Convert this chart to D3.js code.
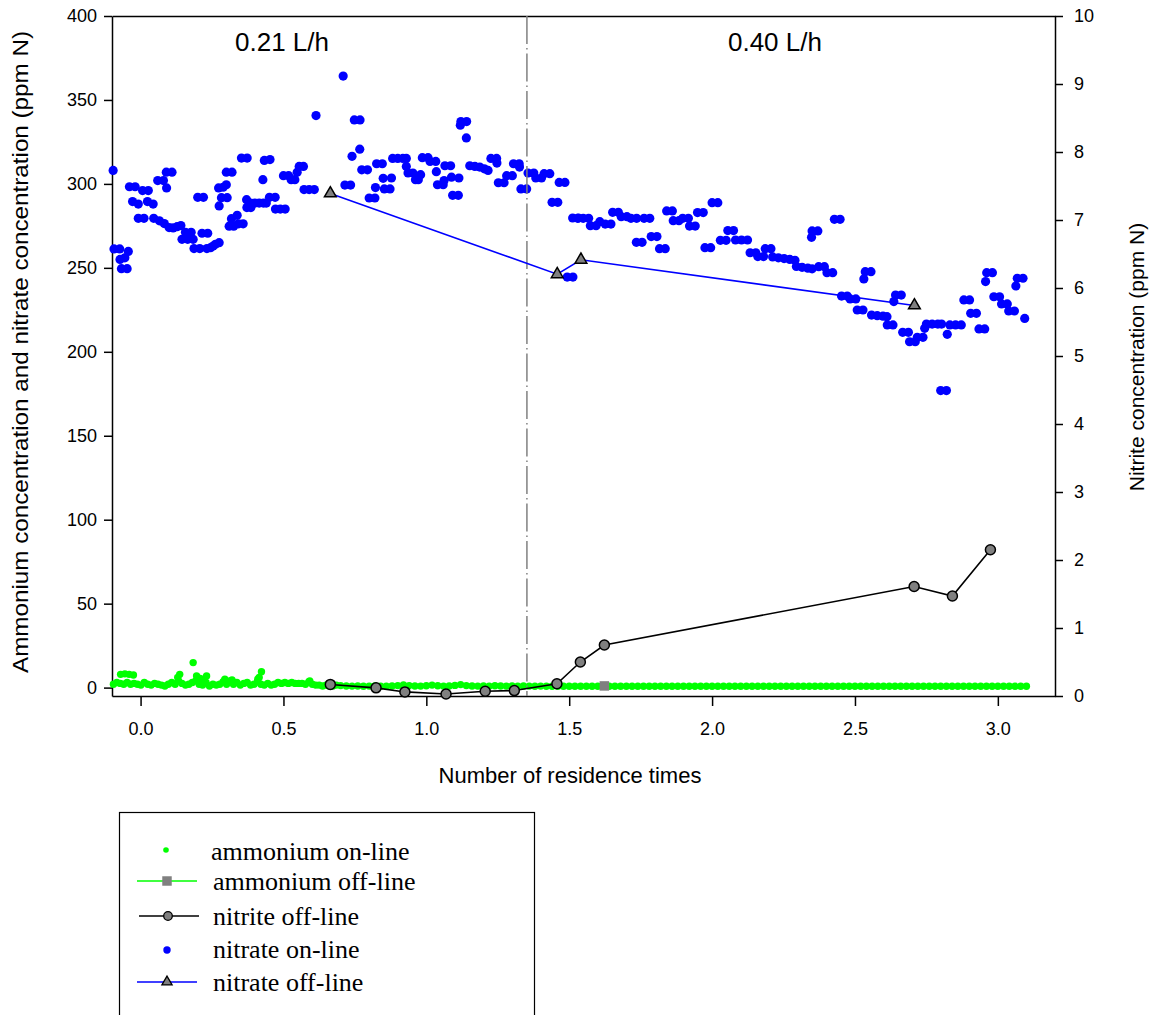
<!DOCTYPE html>
<html>
<head>
<meta charset="utf-8">
<script src="https://cdn.jsdelivr.net/npm/d3@7"></script>
<style>
  body { margin: 0; background: #fff; }
  text { font-family: "Liberation Sans", Arial, sans-serif; }
  .legend text { font-family: "Liberation Serif", "Times New Roman", serif; }
</style>
</head>
<body>
<svg id="chart" width="1154" height="1015"></svg>
<script>
// x ticks and the two flow-rate periods
var xTicks = [0, 0.5, 1, 1.5, 2, 2.5, 3];
var leftTicks = [0, 50, 100, 150, 200, 250, 300, 350, 400];
var rightTicks = [0, 1, 2, 3, 4, 5, 6, 7, 8, 9, 10];
var flowSwitch = 1.352;
var periodLabels = [{x: 0.495, text: "0.21 L/h"}, {x: 2.22, text: "0.40 L/h"}];

// ammonium on-line (left axis, ppm N)
var ammoniumOn = [
  [-0.095,2],[-0.083,3],[-0.071,2.5],[-0.059,2],[-0.047,3],[-0.035,2],[-0.023,2.5],[-0.011,2],
  [0.001,1.5],[0.013,3],[0.025,2],[0.037,1.5],[0.049,2.5],[0.061,2],[0.073,1.5],[0.085,1],
  [0.097,2],[0.109,3],[0.121,2],[0.133,4],[0.145,2.5],[0.157,1.5],[0.169,2],[0.181,3],
  [0.193,4],[0.205,2],[0.217,1.5],[0.229,3],[0.241,1],[0.253,2],[0.265,1.5],[0.277,2],
  [0.289,3.5],[0.301,2],[0.313,4],[0.325,2],[0.337,3],[0.349,1.5],[0.361,2.5],[0.373,3],
  [0.385,1.5],[0.397,2],[0.409,3.5],[0.421,2],[0.433,1.5],[0.445,2.5],[0.457,1.5],[0.469,2],
  [0.481,3],[0.493,2.5],[0.505,3],[0.517,2.5],[0.529,3],[0.541,2.5],[0.553,2.5],[0.565,2.5],
  [0.577,2],[0.589,3.5],[0.601,2],[0.613,1.5],[0.625,1.5],[0.637,1],[0.649,1.5],[0.661,1],
  [0.673,1],[0.685,1.5],
  [-0.07,7.9],[-0.055,8.2],[-0.04,7.9],[-0.025,7.5],[0.13,6],[0.137,7.9],[0.184,14.9],
  [0.196,6.9],[0.208,5.5],[0.22,5],[0.231,6.9],[0.295,5],[0.32,4.5],[0.41,5],[0.415,6],
  [0.423,9.5],[0.592,4],
  [0.70,1.2],[0.72,1.0],[0.74,0.9],[0.76,1.0],[0.78,0.8],[0.80,0.9],[0.82,1.0],[0.84,0.8],
  [0.86,0.9],[0.88,1.0],[0.90,1.2],[0.92,1.6],[0.94,1.2],[0.96,1.0],[0.98,0.9],[1.00,1.1],
  [1.02,1.5],[1.04,1.1],[1.06,0.9],[1.08,1.0],[1.10,1.3],[1.12,1.8],[1.14,1.2],[1.16,1.0],
  [1.18,0.9],[1.20,1.0],[1.22,0.9],[1.24,1.1],[1.26,1.0],[1.28,0.9],[1.30,1.0],[1.32,0.9],
  [1.34,1.0],[1.36,0.9],[1.38,0.8],[1.40,0.9],[1.42,0.8],[1.44,0.8],[1.46,0.8],[1.48,0.8],
  [1.50,0.8],[1.52,0.8],[1.54,0.8],[1.56,0.8],[1.58,0.8],[1.60,0.8],[1.62,0.8],[1.64,0.8],
  [1.66,0.8],[1.68,0.8],[1.70,0.8],[1.72,0.8],[1.74,0.8],[1.76,0.8],[1.78,0.8],[1.80,0.8],
  [1.82,0.8],[1.84,0.8],[1.86,0.8],[1.88,0.8],[1.90,0.8],[1.92,0.8],[1.94,0.8],[1.96,0.8],
  [1.98,0.8],[2.00,0.8],[2.02,0.8],[2.04,0.8],[2.06,0.8],[2.08,0.8],[2.10,0.8],[2.12,0.8],
  [2.14,0.8],[2.16,0.8],[2.18,0.8],[2.20,0.8],[2.22,0.8],[2.24,0.8],[2.26,0.8],[2.28,0.8],
  [2.30,0.8],[2.32,0.8],[2.34,0.8],[2.36,0.8],[2.38,0.8],[2.40,0.8],[2.42,0.8],[2.44,0.8],
  [2.46,0.8],[2.48,0.8],[2.50,0.8],[2.52,0.8],[2.54,0.8],[2.56,0.8],[2.58,0.8],[2.60,0.8],
  [2.62,0.8],[2.64,0.8],[2.66,0.8],[2.68,0.8],[2.70,0.8],[2.72,0.8],[2.74,0.8],[2.76,0.8],
  [2.78,0.8],[2.80,0.8],[2.82,0.8],[2.84,0.8],[2.86,0.8],[2.88,0.8],[2.90,0.8],[2.92,0.8],
  [2.94,0.8],[2.96,0.8],[2.98,0.8],[3.00,0.8],[3.02,0.8],[3.04,0.8],[3.06,0.8],[3.08,0.8],
  [3.10,0.8]
];

// ammonium off-line (left axis)
var ammoniumOffX = [1.623];
var ammoniumOffY = [1.0];

// nitrite off-line (right axis, ppm N)
var nitriteX = [0.664, 0.824, 0.925, 1.069, 1.206, 1.308, 1.457, 1.539, 1.623, 2.707, 2.841, 2.974];
var nitriteY = [0.17, 0.12, 0.06, 0.03, 0.07, 0.08, 0.18, 0.50, 0.75, 1.61, 1.47, 2.15];

// nitrate on-line (left axis)
var nitrateOn = [
  [-0.096,308],[-0.093,261.3],[-0.073,261.3],[-0.043,259.8],[-0.055,256],[-0.072,255],
  [-0.067,249.5],[-0.047,249.5],[-0.039,298.3],[-0.019,298.3],[-0.028,289.5],[-0.008,288],
  [-0.008,279.5],[0.012,279.5],[0.007,296],[0.027,296],[0.024,289.5],[0.044,288],
  [0.046,279.5],[0.066,278],[0.083,276.4],[0.1,274],[0.114,273.8],[0.128,274.5],[0.141,275.2],
  [0.06,302],[0.08,302],[0.091,297.6],[0.09,307],[0.11,307],[0.157,271.2],[0.177,271.2],
  [0.145,267],[0.165,267],[0.184,267],[0.187,261.5],[0.207,261.5],[0.2,292],[0.22,292],
  [0.215,270.6],[0.235,270.6],[0.232,261.5],[0.245,262],[0.254,263],[0.262,264],[0.275,265],
  [0.275,286.9],[0.273,297.6],[0.289,298],[0.3,299.5],[0.283,291.8],[0.303,291.8],
  [0.3,307],[0.32,307],[0.31,274.8],[0.326,274.8],[0.318,279.3],[0.338,281.3],
  [0.343,276.2],[0.359,276.2],[0.353,315.4],[0.373,315.4],[0.371,290.6],[0.372,285.9],
  [0.386,285.9],[0.385,288.6],[0.4,288.6],[0.415,288.6],[0.43,288.6],[0.44,288.6],
  [0.428,302.5],[0.433,314],[0.453,314.5],[0.451,292],[0.471,292],[0.472,285],[0.489,285],
  [0.506,285],[0.5,304.9],[0.518,304.9],[0.527,302.5],[0.54,302.5],[0.548,306.9],
  [0.555,310.4],[0.57,310.4],[0.572,296.6],[0.59,296.6],[0.608,296.6],[0.614,340.7],
  [0.709,364.2],
  [0.748,338.1],[0.768,338.1],[0.767,320.7],[0.74,316.4],[0.715,299.3],[0.735,299.3],
  [0.774,308.4],[0.794,308.4],[0.8,291.6],[0.82,291.6],[0.826,312],[0.846,312],
  [0.822,297.8],[0.849,303.3],[0.878,303.5],[0.853,297],[0.873,297],
  [0.882,315.2],[0.9,315.2],[0.918,315.2],[0.93,315.2],[0.93,310.4],[0.936,306.5],[0.953,306.5],
  [0.962,302.5],[0.972,302.5],[0.98,305.5],[0.986,315.6],[1.006,315.6],[1.013,313.4],[1.033,313.4],
  [1.035,307.3],[1.039,299.5],[1.059,299.5],[1.065,310.8],[1.085,310.8],[1.062,302],
  [1.088,304],[1.114,303.5],[1.092,293.2],[1.112,293.2],[1.121,337.1],[1.141,337.1],
  [1.119,335],[1.14,327.4],[1.152,310.8],[1.17,310.4],[1.187,310],[1.203,309],[1.216,308],
  [1.226,315.2],[1.246,315.2],[1.247,312.4],[1.252,300.7],[1.272,300.7],[1.281,304.9],[1.301,304.9],
  [1.305,312],[1.325,312],[1.326,310],[1.331,297],[1.351,297],[1.356,306.5],[1.376,306.5],
  [1.383,303.5],[1.403,303.5],[1.412,306.1],[1.432,306.1],[1.44,289],[1.46,289],
  [1.465,300.9],[1.485,300.9],[1.512,279.7],[1.532,279.7],[1.493,244.5],[1.513,244.5],
  [1.53,279.5],[1.549,279.5],[1.568,279.5],[1.574,275.1],[1.594,275.1],[1.607,277.5],
  [1.626,276.1],[1.646,276.1],[1.652,283.1],[1.672,283.1],[1.682,280.5],[1.702,280.5],
  [1.716,279.5],[1.736,279.5],[1.735,265.2],[1.755,265.2],[1.762,279.5],[1.782,279.5],
  [1.787,268.6],[1.807,268.6],[1.816,261.4],[1.836,261.4],[1.841,283.9],[1.861,283.9],
  [1.864,278.1],[1.884,278.1],[1.897,279.5],[1.917,279.5],[1.921,274.9],[1.941,274.9],
  [1.949,282.9],[1.969,282.9],[1.975,262],[1.995,262],[2.0,288.8],[2.02,288.8],
  [2.029,266.4],[2.049,266.4],[2.055,272.2],[2.075,272.2],[2.082,266.6],[2.103,266.6],[2.124,266.6],
  [2.133,259],[2.153,259],[2.16,256.7],[2.18,256.7],[2.186,261.4],[2.206,261.4],
  [2.212,256.5],[2.232,256],[2.252,255.5],[2.272,255],[2.29,254.5],
  [2.295,250.8],[2.315,250.3],[2.335,249.8],[2.35,249.4],
  [2.35,272],[2.37,272],[2.348,268.2],[2.428,278.9],[2.448,278.9],[2.373,250.7],[2.393,250.7],
  [2.402,247.1],[2.422,247.1],[2.453,233.2],[2.473,233.2],[2.483,231.5],[2.503,231.5],
  [2.508,224.9],[2.528,224.9],[2.536,247.7],[2.556,247.7],[2.531,243.4],
  [2.558,221.9],[2.578,221.5],[2.598,221.2],[2.612,220.9],[2.613,216],[2.633,216],
  [2.642,233.8],[2.662,233.8],[2.636,229.9],[2.667,211.6],[2.687,211.6],[2.691,206],[2.711,206],
  [2.718,208.6],[2.738,208.6],[2.75,216.5],[2.77,216.5],[2.79,216.5],[2.803,216.5],[2.744,214],
  [2.8,176.9],[2.82,176.9],[2.823,210.4],[2.832,216],[2.852,216],[2.872,216],
  [2.881,230.9],[2.901,230.9],[2.905,222.9],[2.925,222.9],[2.934,213.6],[2.954,213.6],
  [2.961,247.1],[2.981,247.1],[2.957,241.8],[2.986,232.8],[3.006,232.8],[3.013,228.5],[3.033,228.5],
  [3.038,224.3],[3.058,224.3],[3.068,243.8],[3.088,243.8],[3.063,239.2],[3.094,219.9]
];

// nitrate off-line (left axis)
var nitrateOffX = [0.664, 1.458, 1.541, 2.708];
var nitrateOffY = [294.3, 246.2, 254.8, 227.6];

var legendItems = ["ammonium on-line", "ammonium off-line", "nitrite off-line", "nitrate on-line", "nitrate off-line"];

var GREEN = "#00ff00", BLUE = "#0000ff", GREY = "#808080";

var svg = d3.select("#chart");
svg.append("rect").attr("width", 1154).attr("height", 1015).attr("fill", "#fff");

var x = d3.scaleLinear().domain([-0.1, 3.2]).range([112, 1055]);
var yL = d3.scaleLinear().domain([-5, 400]).range([696, 16]);
var yR = d3.scaleLinear().domain([0, 10]).range([696, 16]);

// axes
var gx = svg.append("g").attr("transform", "translate(0,696)")
  .call(d3.axisBottom(x).tickValues(xTicks).tickFormat(d3.format(".1f")).tickSizeInner(10).tickSizeOuter(0).tickPadding(16));
var gl = svg.append("g").attr("transform", "translate(112,0)")
  .call(d3.axisLeft(yL).tickValues(leftTicks).tickSizeInner(8).tickSizeOuter(0).tickPadding(7));
var gr = svg.append("g").attr("transform", "translate(1055,0)")
  .call(d3.axisRight(yR).tickValues(rightTicks).tickSizeInner(8).tickSizeOuter(0).tickPadding(11));
var gt = svg.append("g").attr("transform", "translate(0,16)")
  .call(d3.axisTop(x).tickValues([]).tickSizeOuter(0));

[gx, gl, gr, gt].forEach(function(g) {
  g.selectAll("path, line").attr("stroke", "#000").attr("stroke-width", 1.5);
  g.selectAll("text").attr("font-size", 18).attr("fill", "#000")
    .attr("font-family", "'Liberation Sans', Arial, sans-serif");
});

// axis titles (left one is stretched lengthwise in the original)
svg.append("text").attr("transform", "translate(28,352) rotate(-90)")
  .attr("text-anchor", "middle").attr("font-size", 22)
  .attr("textLength", 642).attr("lengthAdjust", "spacingAndGlyphs")
  .text("Ammonium concentration and nitrate concentration (ppm N)");
svg.append("text").attr("transform", "translate(1144,357) rotate(-90)")
  .attr("text-anchor", "middle").attr("font-size", 21)
  .text("Nitrite concentration (ppm N)");
svg.append("text").attr("x", 570).attr("y", 783)
  .attr("text-anchor", "middle").attr("font-size", 22)
  .text("Number of residence times");

// period labels
svg.selectAll(".period").data(periodLabels).enter().append("text")
  .attr("class", "period")
  .attr("x", function(d) { return x(d.x); }).attr("y", 51)
  .attr("text-anchor", "middle").attr("font-size", 26)
  .text(function(d) { return d.text; });

// on-line dots
svg.append("g").selectAll("circle").data(ammoniumOn).enter().append("circle")
  .attr("cx", function(d) { return x(d[0]); })
  .attr("cy", function(d) { return yL(d[1]); })
  .attr("r", 3.7).attr("fill", GREEN);

svg.append("g").selectAll("circle").data(nitrateOn).enter().append("circle")
  .attr("cx", function(d) { return x(d[0]); })
  .attr("cy", function(d) { return yL(d[1]); })
  .attr("r", 4.6).attr("fill", BLUE);

// flow switch line
svg.append("line")
  .attr("x1", x(flowSwitch)).attr("x2", x(flowSwitch))
  .attr("y1", yL(400)).attr("y2", 696)
  .attr("stroke", GREY).attr("stroke-width", 1.5)
  .attr("stroke-dasharray", "28,4,1.5,4");

// ammonium off-line
svg.append("g").selectAll("path").data(ammoniumOffX).enter().append("path")
  .attr("d", d3.symbol().type(d3.symbolSquare).size(90))
  .attr("transform", function(d, i) { return "translate(" + x(d) + "," + yL(ammoniumOffY[i]) + ")"; })
  .attr("fill", GREY);

// nitrite off-line
var nitrite = nitriteX.map(function(d, i) { return [d, nitriteY[i]]; });
svg.append("path").datum(nitrite)
  .attr("d", d3.line().x(function(d) { return x(d[0]); }).y(function(d) { return yR(d[1]); }))
  .attr("fill", "none").attr("stroke", "#000").attr("stroke-width", 1.6);
svg.append("g").selectAll("circle").data(nitrite).enter().append("circle")
  .attr("cx", function(d) { return x(d[0]); })
  .attr("cy", function(d) { return yR(d[1]); })
  .attr("r", 5).attr("fill", GREY).attr("stroke", "#000").attr("stroke-width", 1.5);

// nitrate off-line
var nitrateOff = nitrateOffX.map(function(d, i) { return [d, nitrateOffY[i]]; });
svg.append("path").datum(nitrateOff)
  .attr("d", d3.line().x(function(d) { return x(d[0]); }).y(function(d) { return yL(d[1]); }))
  .attr("fill", "none").attr("stroke", BLUE).attr("stroke-width", 1.6);
svg.append("g").selectAll("path").data(nitrateOff).enter().append("path")
  .attr("d", d3.symbol().type(d3.symbolTriangle).size(60))
  .attr("transform", function(d) { return "translate(" + x(d[0]) + "," + yL(d[1]) + ")"; })
  .attr("fill", GREY).attr("stroke", "#000").attr("stroke-width", 1.5);

// legend
var lg = svg.append("g").attr("class", "legend");
lg.append("rect").attr("x", 119.5).attr("y", 812.5).attr("width", 415).attr("height", 230)
  .attr("fill", "none").attr("stroke", "#000").attr("stroke-width", 1.2);
var rowY = [850, 881, 916, 950, 982];
var textY = [860, 890, 925, 958, 991];
lg.selectAll("text").data(legendItems).enter().append("text")
  .attr("x", function(d, i) { return i === 0 ? 211 : 213; })
  .attr("y", function(d, i) { return textY[i]; })
  .attr("font-size", 26).attr("fill", "#000")
  .text(function(d) { return d; });
lg.append("circle").attr("cx", 166).attr("cy", rowY[0]).attr("r", 2.8).attr("fill", GREEN);
lg.append("line").attr("x1", 137).attr("x2", 197).attr("y1", rowY[1]).attr("y2", rowY[1])
  .attr("stroke", GREEN).attr("stroke-width", 1.5);
lg.append("path").attr("d", d3.symbol().type(d3.symbolSquare).size(90))
  .attr("transform", "translate(167," + rowY[1] + ")").attr("fill", GREY);
lg.append("line").attr("x1", 139).attr("x2", 199).attr("y1", rowY[2]).attr("y2", rowY[2])
  .attr("stroke", "#000").attr("stroke-width", 1.5);
lg.append("circle").attr("cx", 168).attr("cy", rowY[2]).attr("r", 4.3)
  .attr("fill", GREY).attr("stroke", "#000").attr("stroke-width", 1.3);
lg.append("circle").attr("cx", 167).attr("cy", rowY[3]).attr("r", 3.7).attr("fill", BLUE);
lg.append("line").attr("x1", 137).attr("x2", 197).attr("y1", rowY[4]).attr("y2", rowY[4])
  .attr("stroke", BLUE).attr("stroke-width", 1.5);
lg.append("path").attr("d", d3.symbol().type(d3.symbolTriangle).size(45))
  .attr("transform", "translate(167," + rowY[4] + ")")
  .attr("fill", GREY).attr("stroke", "#000").attr("stroke-width", 1.3);
</script>
</body>
</html>
